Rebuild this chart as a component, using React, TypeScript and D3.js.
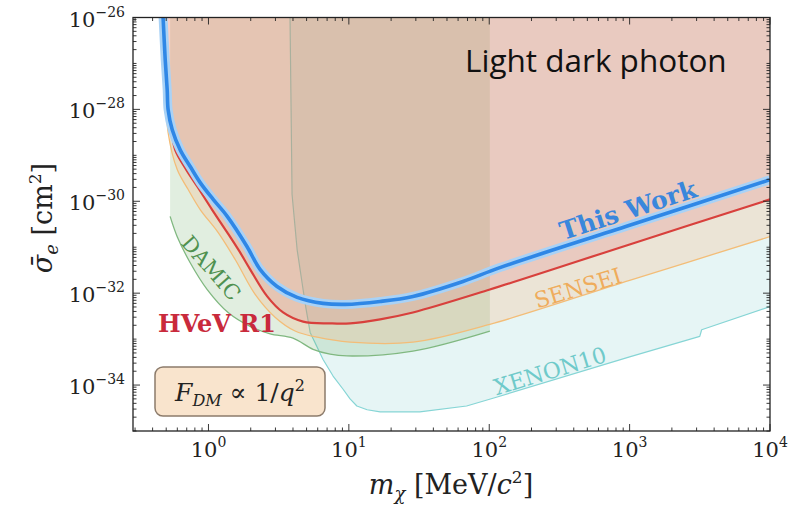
import * as d3 from 'd3'

const W = 792
const H = 505
const plot = { left: 133, right: 770, top: 17.5, bottom: 431 }

const xDomain: [number, number] = [0.29, 1e4]
const yDomain: [number, number] = [1e-35, 1e-26]

// [mass MeV/c^2, cross section cm^2]
const thisWork: [number, number][] = [
  [0.475, 1.0e-26], [0.492, 1.2e-27], [0.508, 2.7e-28], [0.516, 9.8e-29], [0.552, 3.6e-29],
  [0.63, 1.3e-29], [0.741, 5.7e-30], [0.873, 2.55e-30], [1.08, 1.1e-30], [1.36, 4.7e-31],
  [1.88, 1.04e-31], [2.33, 3.3e-32], [3.08, 1.4e-32], [4.28, 8.1e-33], [6.55, 6.0e-33],
  [9.4, 5.7e-33], [16.7, 6.6e-33], [28.6, 8.5e-33], [65, 1.8e-32], [119, 3.6e-32],
  [1000, 3.0e-31], [1e4, 2.95e-30],
]

const hvevR1: [number, number][] = [
  [0.484, 1.0e-26], [0.5, 4.4e-28], [0.508, 9.8e-29], [0.543, 3.6e-29], [0.58, 1.3e-29],
  [0.694, 4.9e-30], [0.832, 2.1e-30], [1.06, 6.6e-31], [1.36, 2.1e-31], [1.68, 7.7e-32],
  [1.98, 3.3e-32], [2.62, 8.5e-33], [3.4, 3.8e-33], [4.72, 2.4e-33], [7.35, 2.2e-33],
  [10.2, 2.2e-33], [16.7, 2.7e-33], [28.6, 3.8e-33], [101, 1.2e-32], [1000, 1.15e-31],
  [1e4, 1.1e-30],
]

const sensei: [number, number][] = [
  [0.492, 1.0e-26], [0.5, 1.6e-28], [0.516, 3.1e-29], [0.599, 4.9e-30], [0.717, 1.8e-30],
  [0.873, 6.6e-31], [1.17, 2.1e-31], [1.55, 5.4e-32], [2.15, 9.4e-33], [2.98, 3.0e-33],
  [4.14, 1.5e-33], [5.94, 1.1e-33], [10.2, 8.6e-34], [28.6, 8.6e-34], [101, 2.1e-33],
  [1000, 1.9e-32], [1e4, 1.7e-31],
]

const damic: [number, number][] = [
  [0.533, 4.7e-31], [0.599, 1.7e-31], [0.741, 4.6e-32], [0.98, 1.2e-32], [1.38, 3.8e-33],
  [1.98, 1.9e-33], [2.75, 1.3e-33], [4.0, 1.05e-33], [5.56, 6.0e-34], [7.35, 4.7e-34],
  [9.7, 4.3e-34], [28.6, 5.5e-34], [101, 1.5e-33],
]

const xenon10: [number, number][] = [
  [3.81, 1.0e-26], [3.94, 1.4e-30], [4.28, 8.9e-32], [4.72, 1.2e-32], [4.96, 4.5e-33],
  [5.3, 1.4e-33], [6.55, 3.6e-34], [7.72, 1.57e-34], [9.1, 8.1e-35], [10.2, 5.0e-35],
  [11.4, 3.5e-35], [13.5, 2.9e-35], [16.7, 2.6e-35], [32, 2.6e-35], [69, 3.5e-35],
  [114, 5.5e-35], [1000, 4.1e-34], [3160, 1.15e-33], [3260, 1.6e-33], [1e4, 5.1e-33],
]

const xDecades = [0, 1, 2, 3, 4]
const yLabelDecades = [-26, -28, -30, -32, -34]

const serif = '"DejaVu Serif", serif'

export default function App() {
  const x = d3.scaleLog().domain(xDomain).range([plot.left, plot.right])
  const y = d3.scaleLog().domain(yDomain).range([plot.bottom, plot.top])

  const smooth = d3.line<[number, number]>()
    .x(d => x(d[0]))
    .y(d => y(d[1]))
    .curve(d3.curveCatmullRom.alpha(0.5))
  const straight = d3.line<[number, number]>()
    .x(d => x(d[0]))
    .y(d => y(d[1]))

  const top = y(yDomain[1])
  const right = x(xDomain[1])

  // fill above a curve that starts at the top edge and ends at the right edge
  const fillAbove = (pts: [number, number][], line: any = smooth) =>
    `${line(pts)}L${right},${top}L${x(pts[0][0])},${top}Z`

  const damicFill = `M${x(damic[0][0])},${top}L${smooth(damic)!.substring(1)}L${x(damic[damic.length - 1][0])},${top}Z`

  // ticks
  const xTicks: { v: number; major: boolean }[] = []
  for (let e = -1; e <= 4; e++) {
    for (let k = 1; k <= 9; k++) {
      const v = k * Math.pow(10, e)
      if (v >= xDomain[0] && v <= xDomain[1] * 1.0001) xTicks.push({ v, major: k === 1 })
    }
  }
  const yTicks: { v: number; major: boolean }[] = []
  for (let e = -35; e <= -26; e++) {
    for (let k = 1; k <= 9; k++) {
      const v = k * Math.pow(10, e)
      if (v >= yDomain[0] * 0.9999 && v <= yDomain[1] * 1.0001) yTicks.push({ v, major: k === 1 && e % 2 === 0 })
    }
  }

  return (
    <svg width={W} height={H} style={{ position: 'absolute', left: 0, top: 0, background: '#fff' }}>
      <defs>
        <clipPath id="plotclip">
          <rect x={plot.left} y={plot.top} width={plot.right - plot.left} height={plot.bottom - plot.top} />
        </clipPath>
      </defs>

      <g clipPath="url(#plotclip)">
        {/* excluded regions, each boundary drawn under the next layer */}
        <path d={fillAbove(xenon10, straight)} fill="rgb(116,200,200)" fillOpacity={0.18} />
        <path d={straight(xenon10)!} fill="none" stroke="#86d5d5" strokeWidth={1.2} strokeLinejoin="round" />
        <path d={damicFill} fill="rgb(105,170,100)" fillOpacity={0.2} />
        <path d={smooth(damic)!} fill="none" stroke="#80b880" strokeWidth={1.3} />
        <path d={fillAbove(sensei)} fill="rgb(255,168,104)" fillOpacity={0.22} />
        <path d={smooth(sensei)!} fill="none" stroke="#f3bd78" strokeWidth={1.3} />
        <path d={fillAbove(hvevR1)} fill="rgb(226,98,104)" fillOpacity={0.2} />
        <path d={smooth(hvevR1)!} fill="none" stroke="#d8403c" strokeWidth={2.2} />
        <path d={smooth(thisWork)!} fill="none" stroke="#a9d2f6" strokeWidth={9} strokeLinejoin="round" />
        <path d={smooth(thisWork)!} fill="none" stroke="#2f87e6" strokeWidth={3.6} strokeLinejoin="round" />
      </g>

      {/* curve labels */}
      <text transform="translate(628,210) rotate(-18)" textAnchor="middle" dy="0.35em"
        fontFamily={serif} fontWeight="bold" fontSize={25} fill="#3a87dc">This Work</text>
      <text transform="translate(578,288) rotate(-17)" textAnchor="middle" dy="0.35em"
        fontFamily={serif} fontSize={22} fill="#efac5c">SENSEI</text>
      <text transform="translate(550,371) rotate(-17)" textAnchor="middle" dy="0.35em"
        fontFamily={serif} fontSize={22} fill="#6fcaca">XENON10</text>
      <text transform="translate(211,268) rotate(49)" textAnchor="middle" dy="0.35em"
        fontFamily={serif} fontSize={21} fill="#4f914f">DAMIC</text>
      <text x={158} y={332} fontFamily={serif} fontWeight="bold" fontSize={24} fill="#c92a3c">HVeV R1</text>

      <text x={465} y={72} fontFamily='"Open Sans", sans-serif' fontSize={31.5} fill="#111">Light dark photon</text>

      {/* form factor box */}
      <rect x={155} y={367} width={170} height={49} rx={8} fill="#f9e4cd" stroke="#8c7b6b" strokeWidth={1.5} />
      <text x={240} y={401} textAnchor="middle" fontFamily={serif} fontSize={25} fill="#222">
        <tspan fontStyle="italic">F</tspan>
        <tspan fontStyle="italic" fontSize={16} dy={5}>DM</tspan>
        <tspan dy={-5}> ∝ 1/</tspan>
        <tspan fontStyle="italic">q</tspan>
        <tspan fontSize={16} dy={-10}>2</tspan>
      </text>

      {/* frame */}
      <rect x={plot.left} y={plot.top} width={plot.right - plot.left} height={plot.bottom - plot.top}
        fill="none" stroke="#222" strokeWidth={1.3} />

      {/* ticks */}
      <g stroke="#222" strokeWidth={0.9}>
        {xTicks.map((t, i) => {
          const len = t.major ? 7 : 3.5
          const px = x(t.v)
          return (
            <g key={`xt${i}`}>
              <line x1={px} x2={px} y1={plot.bottom} y2={plot.bottom - len} />
              <line x1={px} x2={px} y1={plot.top} y2={plot.top + len} />
            </g>
          )
        })}
        {yTicks.map((t, i) => {
          const len = t.major ? 7 : 3.5
          const py = y(t.v)
          return (
            <g key={`yt${i}`}>
              <line x1={plot.left} x2={plot.left + len} y1={py} y2={py} />
              <line x1={plot.right} x2={plot.right - len} y1={py} y2={py} />
            </g>
          )
        })}
      </g>

      {/* tick labels */}
      {xDecades.map(e => (
        <text key={`xl${e}`} x={x(Math.pow(10, e))} y={457} textAnchor="middle"
          fontFamily={serif} fontSize={21} fill="#222">
          10<tspan fontSize={14} dy={-10}>{e}</tspan>
        </text>
      ))}
      {yLabelDecades.map(e => (
        <text key={`yl${e}`} x={125} y={y(Math.pow(10, e)) + 9} textAnchor="end"
          fontFamily={serif} fontSize={21} fill="#222">
          10<tspan fontSize={14} dy={-10}>{`−${-e}`}</tspan>
        </text>
      ))}

      {/* axis titles */}
      <text x={451} y={494} textAnchor="middle" fontFamily={serif} fontSize={27} fill="#222">
        <tspan fontStyle="italic">m</tspan>
        <tspan fontStyle="italic" fontSize={18} dy={6}>χ</tspan>
        <tspan dy={-6}> [MeV/</tspan>
        <tspan fontStyle="italic">c</tspan>
        <tspan fontSize={17} dy={-11}>2</tspan>
        <tspan dy={11}>]</tspan>
      </text>
      <text transform="translate(52,218) rotate(-90)" textAnchor="middle" fontFamily={serif} fontSize={27} fill="#222">
        <tspan fontStyle="italic">σ̄</tspan>
        <tspan fontStyle="italic" fontSize={18} dy={6}>e</tspan>
        <tspan dy={-6}> [cm</tspan>
        <tspan fontSize={17} dy={-11}>2</tspan>
        <tspan dy={11}>]</tspan>
      </text>
    </svg>
  )
}
